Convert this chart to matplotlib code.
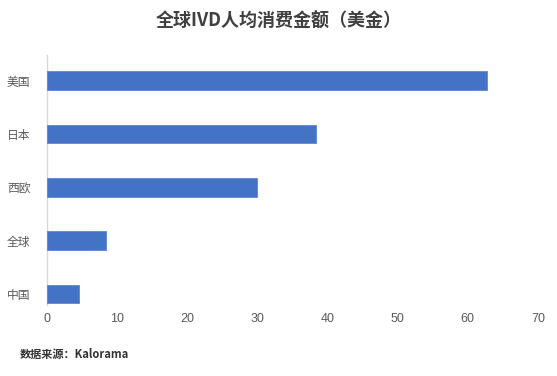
import matplotlib
matplotlib.use("Agg")
import matplotlib.pyplot as plt

plt.rcParams['font.family'] = ['Noto Sans CJK SC', 'DejaVu Sans']

categories = ["美国", "日本", "西欧", "全球", "中国"]
values = [62.8, 38.3, 30.0, 8.4, 4.6]
xticks = [0, 10, 20, 30, 40, 50, 60, 70]
title = "全球IVD人均消费金额（美金）"
source = "数据来源：Kalorama"

W, H = 557, 376
fig = plt.figure(figsize=(W / 100, H / 100), dpi=100)
left, right = 47 / W, 538 / W
top, bottom = 55 / H, 305 / H
ax = fig.add_axes([left, 1 - bottom, right - left, bottom - top])

ypos = list(range(len(categories) - 1, -1, -1))
ax.barh(ypos, values, height=0.35, color="#4472C4", edgecolor="#5B87D6", linewidth=0.6, zorder=3)
ax.set_ylim(-0.206, 4.478)
ax.set_xlim(0, 70)
ax.set_xticks(xticks)
ax.set_xticklabels([str(t) for t in xticks], fontsize=9, color="#595959", family=['Liberation Sans', 'DejaVu Sans'])
ax.set_yticks(ypos)
ax.set_yticklabels(categories, fontsize=8.5, color="#595959")
ax.tick_params(axis='both', length=0)
ax.tick_params(axis='x', pad=6)
ax.tick_params(axis='y', pad=12)
for s in ["top", "right", "bottom"]:
    ax.spines[s].set_visible(False)
ax.spines["left"].set_color("#D9D9D9")
ax.spines["left"].set_linewidth(1.0)

fig.text(0.5, 1 - 21 / H, title, ha="center", va="center", fontsize=13, fontweight="bold", color="#404040")
fig.text(20 / W, 1 - 354 / H, source, ha="left", va="center", fontsize=8, fontweight="bold", color="#333333")

fig.savefig("out.png", dpi=100, facecolor="white")
